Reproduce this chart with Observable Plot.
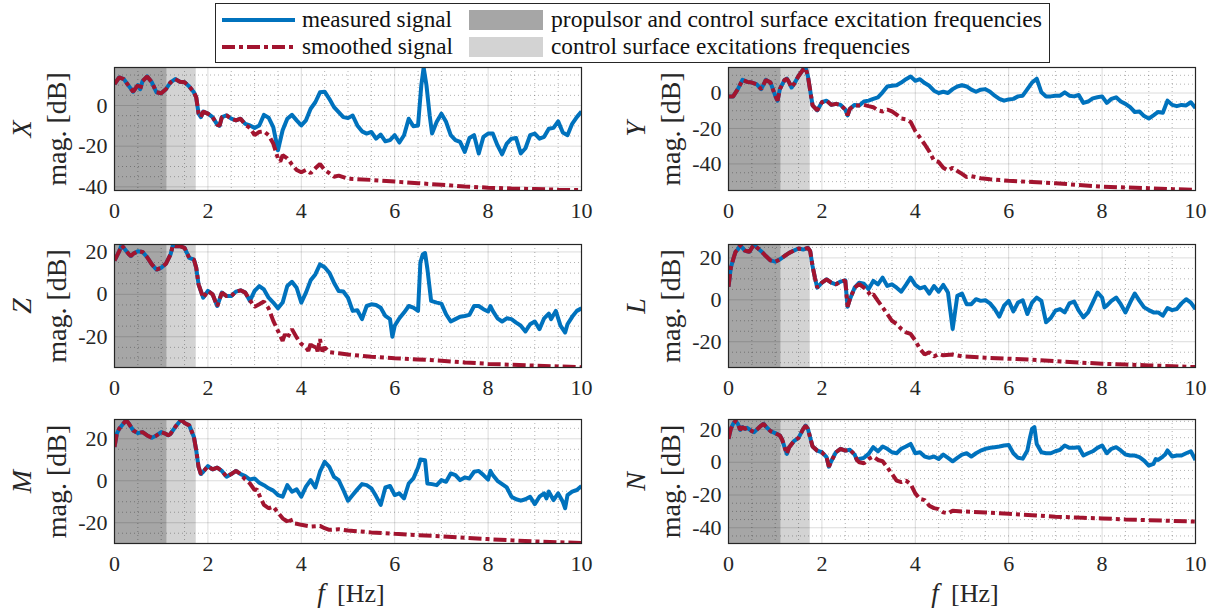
<!DOCTYPE html>
<html>
<head>
<meta charset="utf-8">
<script src="https://cdn.jsdelivr.net/npm/d3@7"></script>
<script src="https://cdn.jsdelivr.net/npm/@observablehq/plot@0.6"></script>
<style>
  html, body { margin: 0; padding: 0; background: #fff; }
  #root { position: relative; width: 1212px; height: 613px; overflow: hidden; font-family: "Liberation Serif", serif; }
  .panel { position: absolute; }
  .panel svg { overflow: visible; font-family: "Liberation Serif", serif !important; }
  .panel svg text { font-family: "Liberation Serif", serif !important; }
  #legend { position: absolute; left: 0; top: 0; z-index: 5; }
</style>
</head>
<body>
<div id="root"></div>
<script>
// ---------------- data (f [Hz], magnitude [dB]) ----------------
const X_measured = [[0,10.6],[0.1,13.8],[0.2,13],[0.3,9.8],[0.4,6.8],[0.5,10],[0.55,8],[0.6,12],[0.7,14.3],[0.8,11.4],[0.9,6.5],[1.0,6],[1.1,8],[1.2,11.4],[1.3,13],[1.4,11.7],[1.5,11.4],[1.6,9.4],[1.7,6.5],[1.75,4],[1.8,-4],[1.85,-5.7],[1.9,-3],[2.0,-4],[2.1,-5.7],[2.2,-9.4],[2.25,-10],[2.3,-5.7],[2.4,-4.9],[2.5,-6.5],[2.6,-7.3],[2.7,-6.5],[2.8,-9],[2.9,-9.8],[3.0,-11],[3.1,-9.8],[3.2,-4.6],[3.3,-6],[3.4,-10.6],[3.5,-22],[3.6,-12.2],[3.7,-6.5],[3.8,-4.6],[3.9,-7.3],[4.0,-9.8],[4.1,-7.3],[4.2,-1.6],[4.3,1.6],[4.4,6.5],[4.5,6.8],[4.6,3.3],[4.7,-0.8],[4.8,-3.3],[4.9,-5.7],[5.0,-6.2],[5.1,-4.9],[5.2,-9.8],[5.3,-12.7],[5.4,-13.8],[5.5,-13],[5.6,-16.3],[5.7,-14.3],[5.8,-17.6],[5.9,-17],[6.0,-14.6],[6.1,-18.2],[6.2,-14.6],[6.3,-6.5],[6.4,-10.2],[6.5,-9.8],[6.57,10],[6.62,18.7],[6.68,10],[6.75,-5],[6.8,-13.8],[6.9,-8],[7.0,-4],[7.1,-8],[7.2,-14.6],[7.3,-17],[7.4,-17.9],[7.5,-22.8],[7.6,-16],[7.7,-14.6],[7.8,-23.6],[7.9,-15.4],[8.0,-13.8],[8.1,-13.8],[8.2,-19.5],[8.3,-24],[8.4,-18.7],[8.5,-16.3],[8.6,-16],[8.7,-23.6],[8.8,-21],[8.9,-14.6],[9.0,-13.8],[9.1,-16.3],[9.2,-15.4],[9.3,-11.4],[9.4,-11],[9.5,-7.8],[9.6,-13.3],[9.7,-14.6],[9.8,-9],[9.9,-5.7],[10,-2.9]];
const X_smoothedTail = [[2.8,-9.5],[2.9,-11],[3.0,-14.6],[3.1,-13],[3.2,-12.7],[3.3,-14.6],[3.4,-18.7],[3.5,-26],[3.55,-27.6],[3.6,-24.4],[3.7,-26],[3.8,-29],[3.9,-31.7],[4.0,-32.8],[4.1,-31.7],[4.2,-33.3],[4.3,-30.9],[4.4,-28.8],[4.5,-31.7],[4.6,-33.3],[4.7,-35],[4.8,-34.5],[5.0,-36],[5.5,-36.6],[6.0,-37.4],[6.5,-38.2],[7.0,-39],[7.5,-39.8],[8.0,-40.4],[8.5,-40.8],[9.0,-41.1],[9.5,-41.4],[10,-41.6]];

const Y_measured = [[0,-1.9],[0.1,-1.9],[0.2,2.2],[0.3,7.4],[0.4,6.3],[0.5,5.9],[0.6,5],[0.7,2.2],[0.8,7.4],[0.9,5.9],[1.0,-1.5],[1.05,-4.3],[1.1,2.2],[1.2,7.4],[1.25,8.1],[1.3,5.9],[1.35,3.1],[1.4,5],[1.5,9.6],[1.6,13.3],[1.65,14.3],[1.7,9.6],[1.8,-7],[1.9,-9.8],[2.0,-5.2],[2.1,-4.3],[2.2,-6.7],[2.3,-6.1],[2.4,-6.7],[2.5,-9.3],[2.55,-12.6],[2.6,-8.9],[2.7,-6.7],[2.8,-7],[2.9,-4.8],[3.0,-4.3],[3.1,-3.3],[3.2,-2.4],[3.3,0.4],[3.4,3.7],[3.5,4.1],[3.6,4.4],[3.7,5.9],[3.8,7.8],[3.9,9.3],[4.0,6.9],[4.1,7.8],[4.2,5.6],[4.3,4.1],[4.4,1.3],[4.5,0],[4.6,0.7],[4.7,0],[4.8,2.2],[4.9,3.7],[5.0,4.4],[5.1,3.7],[5.2,1.9],[5.3,0.7],[5.4,1.9],[5.5,2.2],[5.6,0.7],[5.7,-1.5],[5.8,-3.3],[5.9,-4.3],[6.0,-3.6],[6.1,-3.3],[6.2,-1.9],[6.3,-1.5],[6.4,2.2],[6.5,5.9],[6.6,8.1],[6.7,0.4],[6.8,-1.9],[6.9,-1.9],[7.0,-1.5],[7.1,-1.5],[7.2,0.4],[7.3,-1.5],[7.4,-1.9],[7.5,-1.1],[7.6,-5.6],[7.7,-4.8],[7.8,-3],[7.9,-2.4],[8.0,-1.9],[8.1,-5.6],[8.2,-3.3],[8.3,-2.4],[8.4,-4.8],[8.5,-6.1],[8.6,-8],[8.7,-10.7],[8.8,-10.4],[8.9,-13],[9.0,-14.4],[9.1,-12.6],[9.2,-10.7],[9.3,-11.1],[9.4,-4.3],[9.5,-6.7],[9.6,-7.4],[9.7,-6.7],[9.8,-7],[9.9,-5.2],[10,-8.5]];
const Y_smoothedTail = [[2.7,-7],[2.8,-7],[2.9,-6.7],[3.0,-7.4],[3.1,-8],[3.2,-9.8],[3.3,-10.4],[3.4,-9.3],[3.5,-10.4],[3.6,-12.2],[3.7,-14.4],[3.8,-14.8],[3.9,-16.3],[4.0,-21.5],[4.1,-25.2],[4.2,-28.9],[4.3,-33],[4.4,-38.1],[4.5,-38.9],[4.6,-42.2],[4.7,-43.7],[4.8,-42.2],[4.9,-44],[5.0,-45.6],[5.1,-47.4],[5.2,-46.9],[5.4,-48.1],[5.6,-48.7],[6.0,-49.5],[6.5,-50.2],[7.0,-50.9],[7.5,-51.9],[8.0,-52.8],[8.5,-53.3],[9.0,-53.7],[9.5,-54.2],[10,-54.6]];

const Z_measured = [[0,15.9],[0.1,20.3],[0.15,23.1],[0.2,21.9],[0.3,19.1],[0.35,18],[0.4,19.1],[0.5,20.3],[0.6,20],[0.7,17.5],[0.8,14.1],[0.9,11.7],[1.0,12.5],[1.1,14.4],[1.2,18.8],[1.25,23.1],[1.3,22.7],[1.4,22.7],[1.5,21.9],[1.6,17.2],[1.7,16.4],[1.75,12.5],[1.8,4.7],[1.9,-1.6],[2.0,1.6],[2.1,0],[2.2,-5.5],[2.3,0.8],[2.4,-0.8],[2.5,-0.8],[2.6,1.3],[2.7,1.9],[2.8,0.8],[2.9,-3.1],[3.0,1.6],[3.1,3.9],[3.2,2.3],[3.3,-1.6],[3.4,-3.9],[3.5,-6.6],[3.6,-3.9],[3.7,3.9],[3.8,5.9],[3.9,3.1],[4.0,-3.9],[4.1,0.8],[4.2,6.6],[4.3,9.4],[4.4,14.1],[4.5,12.8],[4.6,10.2],[4.7,5.5],[4.8,1.6],[4.9,1.3],[5.0,-1.6],[5.1,-7.8],[5.2,-7.5],[5.3,-11.7],[5.4,-5.5],[5.5,-4.7],[5.6,-5],[5.7,-6.3],[5.8,-10.2],[5.9,-11.7],[5.95,-20],[6.0,-14.8],[6.1,-11.3],[6.2,-8.6],[6.3,-5.5],[6.4,-6.3],[6.5,-7.8],[6.55,15],[6.6,18.8],[6.65,19.5],[6.7,12],[6.78,-3.1],[6.9,-3.9],[7.0,-4.4],[7.1,-9.4],[7.2,-12.8],[7.3,-11.7],[7.4,-10.6],[7.5,-10.2],[7.6,-9.7],[7.7,-5.5],[7.8,-5.5],[7.9,-7],[8.0,-8.1],[8.05,-5.5],[8.1,-7.8],[8.2,-11.3],[8.3,-12.8],[8.4,-11.3],[8.5,-11.7],[8.6,-13.3],[8.7,-14.8],[8.8,-17.5],[8.9,-14.1],[9.0,-12.8],[9.1,-16.4],[9.2,-11.3],[9.3,-9.1],[9.35,-11.7],[9.4,-9.7],[9.45,-7.8],[9.55,-14.8],[9.65,-18],[9.7,-14.1],[9.8,-10.6],[9.9,-7.8],[10,-6.6]];
const Z_smoothedTail = [[2.9,-2.8],[3.0,-5.9],[3.1,-4.7],[3.2,-3.4],[3.3,-6.6],[3.4,-12.5],[3.5,-17.2],[3.6,-21.9],[3.65,-18.8],[3.7,-20.6],[3.8,-16.4],[3.9,-20.3],[4.0,-23.4],[4.1,-25],[4.15,-26.6],[4.2,-23.4],[4.25,-25.8],[4.3,-23.4],[4.35,-26.9],[4.4,-21.1],[4.45,-26.9],[4.5,-25],[4.6,-27.3],[4.8,-27.8],[5.0,-28.4],[5.5,-29.4],[6.0,-30.1],[6.5,-30.7],[7.0,-31.3],[7.5,-32.1],[8.0,-32.8],[8.5,-33.2],[9.0,-33.6],[9.5,-34],[10,-34.4]];

const L_measured = [[0,6.2],[0.05,15.3],[0.1,19.3],[0.15,22.9],[0.2,24],[0.25,26],[0.3,24.8],[0.35,23.5],[0.4,23.2],[0.45,22.9],[0.5,24.8],[0.55,26.2],[0.6,25.1],[0.7,23.2],[0.8,20.9],[0.9,18.8],[1.0,18.2],[1.1,19.3],[1.2,20.9],[1.3,22.4],[1.4,23.5],[1.5,24.5],[1.6,24],[1.7,24.8],[1.75,23.2],[1.8,16.1],[1.85,10.6],[1.9,5.8],[2.0,8.2],[2.1,9.8],[2.2,8.2],[2.3,7.4],[2.4,8.7],[2.5,9.3],[2.55,-3.3],[2.6,0.3],[2.7,5.8],[2.8,8.2],[2.9,7.7],[3.0,5.1],[3.1,9],[3.2,7.4],[3.3,10.6],[3.4,6.6],[3.5,7.4],[3.6,5.8],[3.7,3.9],[3.8,7.1],[3.9,10.6],[4.0,7.1],[4.1,5.5],[4.2,6.2],[4.3,3],[4.4,6.6],[4.5,3.9],[4.6,7.1],[4.7,3.5],[4.8,-13.9],[4.9,1.9],[5.0,3],[5.1,-2.1],[5.2,-2.1],[5.3,0.3],[5.4,-0.5],[5.5,-0.2],[5.6,-1.7],[5.7,-4.4],[5.8,-8],[5.9,-2.8],[6.0,-0.5],[6.1,-5.5],[6.2,-1.3],[6.3,-0.2],[6.4,-6.8],[6.5,-1.3],[6.6,1.1],[6.7,-0.5],[6.8,-10.7],[6.9,-8.7],[7.0,-5.2],[7.1,-4.4],[7.2,-6],[7.3,-1.7],[7.4,-0.8],[7.5,-5.2],[7.6,-8.4],[7.7,-6],[7.8,-1.3],[7.9,3.5],[8.0,1.1],[8.05,-3.6],[8.1,-2.8],[8.2,-0.5],[8.3,1.1],[8.4,-2.1],[8.5,-6],[8.6,-1.3],[8.7,3],[8.8,-0.5],[8.9,-3.6],[9.0,-4.9],[9.1,-6],[9.2,-6],[9.3,-7.6],[9.4,-3.9],[9.5,-4.9],[9.6,-4.4],[9.7,-1.7],[9.8,0.3],[9.9,-1.3],[10,-4.4]];
const L_smoothedTail = [[2.8,7.5],[2.9,5.8],[3.0,3.5],[3.05,1.9],[3.1,2.7],[3.2,-0.5],[3.3,-3.6],[3.4,-6.8],[3.5,-10],[3.6,-11.5],[3.7,-13.9],[3.8,-15.5],[3.9,-16.3],[4.0,-19.4],[4.1,-23.4],[4.2,-26.1],[4.3,-25],[4.4,-27],[4.5,-25.8],[4.6,-26.5],[4.8,-26.1],[5.0,-27],[5.5,-27.6],[6.0,-28.1],[6.5,-28.6],[7.0,-29.2],[7.5,-29.9],[8.0,-30.5],[8.5,-30.9],[9.0,-31.3],[9.5,-31.7],[10,-32.1]];

const M_measured = [[0,16.1],[0.05,22.4],[0.1,24.8],[0.2,27.5],[0.25,28.8],[0.3,27.5],[0.4,24],[0.5,22.7],[0.6,23.2],[0.7,21.6],[0.8,20.5],[0.9,21.6],[1.0,23.2],[1.1,22.4],[1.15,21.6],[1.2,22.4],[1.3,25.6],[1.4,28.4],[1.45,28.8],[1.5,27.5],[1.6,26.4],[1.7,20.9],[1.75,14.5],[1.8,6.6],[1.85,3.2],[1.9,4.3],[2.0,7],[2.1,5.4],[2.2,6.3],[2.3,4.7],[2.4,1.9],[2.5,3.2],[2.6,4.7],[2.7,3.2],[2.8,2.2],[2.9,0.6],[3.0,1.1],[3.1,-0.9],[3.2,-2.1],[3.3,-3.6],[3.4,-4.7],[3.5,-6.8],[3.6,-7.6],[3.7,-2.1],[3.8,-5.2],[3.9,-4.1],[4.0,-7.6],[4.1,-2.8],[4.2,0.3],[4.3,-3.2],[4.4,4.3],[4.5,9],[4.6,6.6],[4.7,1.9],[4.8,0.3],[4.9,-4.4],[5.0,-9.5],[5.1,-6.8],[5.2,-4.1],[5.3,-1.6],[5.4,-2.1],[5.5,-3.6],[5.6,-7.3],[5.7,-11.5],[5.8,-3.2],[5.9,-2.5],[6.0,-6.8],[6.1,-6],[6.2,-8.4],[6.3,-1.3],[6.4,1.1],[6.5,6.3],[6.55,10.1],[6.65,9.8],[6.7,-1.3],[6.8,-1.6],[6.9,-2.1],[7.0,0.3],[7.1,-0.5],[7.2,3.5],[7.3,2.7],[7.4,0.3],[7.5,1.6],[7.6,1.1],[7.7,4.3],[7.8,4.7],[7.9,2.7],[8.0,0.6],[8.05,4.7],[8.1,2.7],[8.2,0],[8.3,-1.6],[8.4,-3.2],[8.5,-7.6],[8.6,-8.8],[8.7,-9.5],[8.8,-8.8],[8.9,-7.6],[9.0,-11.1],[9.1,-7.6],[9.2,-6],[9.25,-8.4],[9.3,-5.2],[9.4,-9.2],[9.5,-6],[9.6,-10],[9.65,-13.1],[9.7,-6.8],[9.8,-5.2],[9.9,-4.4],[10,-2.5]];
const M_smoothedTail = [[2.8,0.6],[2.9,-1.3],[3.0,-4.4],[3.05,-4.1],[3.1,-6.8],[3.2,-11.5],[3.3,-13.1],[3.4,-12.3],[3.5,-15.2],[3.6,-17.9],[3.7,-19.4],[3.75,-17.4],[3.8,-20.2],[3.9,-20.5],[4.0,-21],[4.2,-21.8],[4.4,-21.5],[4.5,-22.6],[4.6,-23.4],[4.8,-23.1],[5.0,-23.7],[5.5,-24.6],[6.0,-25.3],[6.5,-25.9],[7.0,-26.5],[7.5,-27.2],[8.0,-27.8],[8.5,-28.4],[9.0,-28.9],[9.5,-29.3],[10,-29.7]];

const N_measured = [[0,14.3],[0.05,20.4],[0.1,23.5],[0.15,25.1],[0.2,23.5],[0.25,19.8],[0.3,21.4],[0.35,20.4],[0.4,21],[0.5,19],[0.55,18.4],[0.6,19.8],[0.7,22.4],[0.75,23.5],[0.8,21.8],[0.9,19],[1.0,17.8],[1.1,16.3],[1.15,13.7],[1.2,9.2],[1.25,5.1],[1.3,9.2],[1.4,12.9],[1.5,14.9],[1.6,20.4],[1.65,22.4],[1.7,20.4],[1.8,9.6],[1.9,7.1],[2.0,6.1],[2.1,3.1],[2.15,-2.7],[2.2,0.6],[2.3,6.1],[2.4,8.2],[2.5,7.1],[2.6,7.6],[2.7,4.7],[2.75,1.4],[2.8,2],[2.9,2.7],[3.0,5.1],[3.1,9.2],[3.2,6.7],[3.3,9.6],[3.4,8.2],[3.5,6.1],[3.6,5.5],[3.7,8.2],[3.8,9.6],[3.9,11.2],[4.0,5.5],[4.1,6.1],[4.2,3.5],[4.3,2.7],[4.4,3.5],[4.5,2],[4.6,4.7],[4.7,2.7],[4.8,0.6],[4.9,2.7],[5.0,4.7],[5.1,5.5],[5.2,3.5],[5.3,5.5],[5.4,7.1],[5.5,8.2],[5.6,8.8],[5.7,9.2],[5.8,9.6],[5.9,10.2],[6.0,10.5],[6.1,5.5],[6.2,2.7],[6.3,2.2],[6.4,7.2],[6.45,14.3],[6.5,20.4],[6.55,21.5],[6.6,11.2],[6.7,6.1],[6.8,5.5],[6.9,5.5],[7.0,6.7],[7.1,7.6],[7.2,10.2],[7.3,8.8],[7.4,8.8],[7.5,9.2],[7.6,4.1],[7.7,5.5],[7.8,6.7],[7.9,8.8],[8.0,10.2],[8.1,5.5],[8.2,8.2],[8.3,9.2],[8.4,7.2],[8.5,4.7],[8.6,4.1],[8.7,4.1],[8.8,3.1],[8.9,1],[9.0,-2],[9.1,-1],[9.15,2],[9.2,1.4],[9.3,3.5],[9.35,4.7],[9.4,7.2],[9.5,3.5],[9.6,4.1],[9.7,4.1],[9.8,5.5],[9.9,6.7],[10,1.4]];
const N_smoothedTail = [[2.75,1.4],[2.8,0],[2.9,-0.6],[3.0,2],[3.1,3.5],[3.2,1.4],[3.3,0.6],[3.4,-3.1],[3.5,-7.1],[3.6,-11.2],[3.7,-12.2],[3.8,-11.2],[3.9,-13.3],[4.0,-19],[4.1,-22.4],[4.2,-23.1],[4.3,-26.5],[4.4,-28],[4.5,-28.6],[4.6,-30.6],[4.7,-31.2],[4.8,-29.6],[5.0,-30],[5.5,-30.6],[6.0,-31.4],[6.5,-32.3],[7.0,-33.2],[7.5,-33.8],[8.0,-34.3],[8.5,-34.9],[9.0,-35.4],[9.5,-35.8],[10,-36.2]];

// axis ranges and tick labels
const freqTicks = [0, 2, 4, 6, 8, 10];
const freqMinor = [0.5, 1, 1.5, 2.5, 3, 3.5, 4.5, 5, 5.5, 6.5, 7, 7.5, 8.5, 9, 9.5];
const panelNames = ["X", "Y", "Z", "L", "M", "N"];
const yDomains = [[-41.8, 18.7], [-55, 14.4], [-34.5, 23.5], [-32.3, 26.4], [-29.9, 29.2], [-49.6, 26.1]];
const yTicks = [[-40, -20, 0], [-40, -20, 0], [-20, 0, 20], [-20, 0, 20], [-20, 0, 20], [-40, -20, 0, 20]];
const measuredSeries = [X_measured, Y_measured, Z_measured, L_measured, M_measured, N_measured];
const smoothedTails = [X_smoothedTail, Y_smoothedTail, Z_smoothedTail, L_smoothedTail, M_smoothedTail, N_smoothedTail];

// excitation frequency bands
const bandNames = ["propulsor and control surface excitation frequencies", "control surface excitations frequencies"];
const bandStart = [0, 1.13];
const bandEnd = [1.13, 1.75];
const bandFill = ["#a6a6a6", "#d3d3d3"];

const seriesNames = ["measured signal", "smoothed signal"];
const BLUE = "#0072BD", RED = "#A2142F";
const DASHDOT = "13,4,4,4";
const FONT = "Liberation Serif";

const root = document.getElementById("root");

function makePanel(i) {
  const col = i % 2, row = Math.floor(i / 2);
  const left = col === 0, bottom = row === 2;
  const width = left ? 600 : 606;
  const marginLeft = left ? 114 : 122;
  const marginRight = left ? 19 : 17;
  const height = bottom ? 204 : 170;
  const marginTop = 10, marginBottom = bottom ? 70 : 37;
  const domain = yDomains[i];
  const ticks = yTicks[i];
  const yMinor = d3.range(-60, 35, 5).filter(v => v > domain[0] && v < domain[1] && !ticks.includes(v));
  const measured = measuredSeries[i];
  const tail = smoothedTails[i];
  const smoothed = measured.filter(d => d[0] < tail[0][0]).concat(tail);
  const bands = bandStart.map((s, k) => ({x1: s, x2: bandEnd[k], fill: bandFill[k]}));
  const txt = {text: d => d, fontFamily: FONT, fill: "#262626", lineAnchor: "middle"};

  const marks = [
    ...bands.map(b => Plot.rect([b], {x1: "x1", x2: "x2", fill: b.fill})),
    Plot.ruleX(freqMinor, {stroke: "#000", strokeOpacity: 0.3, strokeDasharray: "1,3"}),
    Plot.ruleY(yMinor, {stroke: "#000", strokeOpacity: 0.3, strokeDasharray: "1,3"}),
    Plot.ruleX(freqTicks.slice(1, -1), {stroke: "#000", strokeOpacity: 0.14}),
    Plot.ruleY(ticks, {stroke: "#000", strokeOpacity: 0.14}),
    Plot.line(measured, {x: d => d[0], y: d => d[1], stroke: BLUE, strokeWidth: 4, strokeLinejoin: "round", strokeLinecap: "butt", clip: true}),
    Plot.line(smoothed, {x: d => d[0], y: d => d[1], stroke: RED, strokeWidth: 4, strokeDasharray: DASHDOT, strokeLinejoin: "miter", strokeLinecap: "butt", clip: true}),
    Plot.frame({stroke: "#262626", strokeWidth: 1.2}),
    Plot.text([panelNames[i]], {...txt, frameAnchor: "left", dx: -92, rotate: -90, textAnchor: "middle", fontSize: 28, fontStyle: "italic"}),
    Plot.text(["mag. [dB]"], {...txt, frameAnchor: "left", dx: -57, rotate: -90, textAnchor: "middle", fontSize: 28})
  ];
  if (bottom) {
    marks.push(Plot.text(["f"], {...txt, frameAnchor: "bottom", dx: -27, dy: 50, textAnchor: "middle", fontSize: 27, fontStyle: "italic"}));
    marks.push(Plot.text(["[Hz]"], {...txt, frameAnchor: "bottom", dx: -11, dy: 50, textAnchor: "start", fontSize: 26}));
  }

  const svg = Plot.plot({
    width, height, marginLeft, marginRight, marginTop, marginBottom,
    style: {fontFamily: FONT, fontSize: "22px", color: "#262626", background: "transparent", overflow: "visible"},
    x: {domain: [0, 10], ticks: freqTicks, tickFormat: d => String(d), tickSize: 0, tickPadding: 12, label: null},
    y: {domain, ticks, tickFormat: d => String(d), tickSize: 0, tickPadding: 7, label: null},
    marks
  });
  const div = document.createElement("div");
  div.className = "panel";
  div.style.left = (left ? 0 : 606) + "px";
  div.style.top = [57, 234, 409][row] + "px";
  div.appendChild(svg);
  root.appendChild(div);
}

for (let i = 0; i < 6; i++) makePanel(i);

// ---------------- legend ----------------
const lg = d3.create("svg").attr("id", "legend").attr("width", 1212).attr("height", 70)
  .style("font-family", FONT).style("font-size", "23px");
lg.append("rect").attr("x", 215.5).attr("y", 3.5).attr("width", 834).attr("height", 59)
  .attr("fill", "#fff").attr("stroke", "#262626").attr("stroke-width", 1);
const rowsY = [20, 47];
lg.append("line").attr("x1", 222).attr("x2", 295).attr("y1", rowsY[0]).attr("y2", rowsY[0])
  .attr("stroke", BLUE).attr("stroke-width", 4);
lg.append("line").attr("x1", 222).attr("x2", 295).attr("y1", rowsY[1]).attr("y2", rowsY[1])
  .attr("stroke", RED).attr("stroke-width", 4).attr("stroke-dasharray", DASHDOT);
const seriesLen = [150, 151];
seriesNames.forEach((t, k) => {
  lg.append("text").attr("x", 302).attr("y", rowsY[k]).attr("dy", "0.32em").attr("fill", "#111")
    .attr("textLength", seriesLen[k]).attr("lengthAdjust", "spacingAndGlyphs").text(t);
});
const bandLen = [491, 359];
bandNames.forEach((t, k) => {
  lg.append("rect").attr("x", 469).attr("y", rowsY[k] - 10).attr("width", 74).attr("height", 20).attr("fill", bandFill[k]);
  lg.append("text").attr("x", 551).attr("y", rowsY[k]).attr("dy", "0.32em").attr("fill", "#111")
    .attr("textLength", bandLen[k]).attr("lengthAdjust", "spacingAndGlyphs").text(t);
});
root.appendChild(lg.node());
</script>
</body>
</html>
